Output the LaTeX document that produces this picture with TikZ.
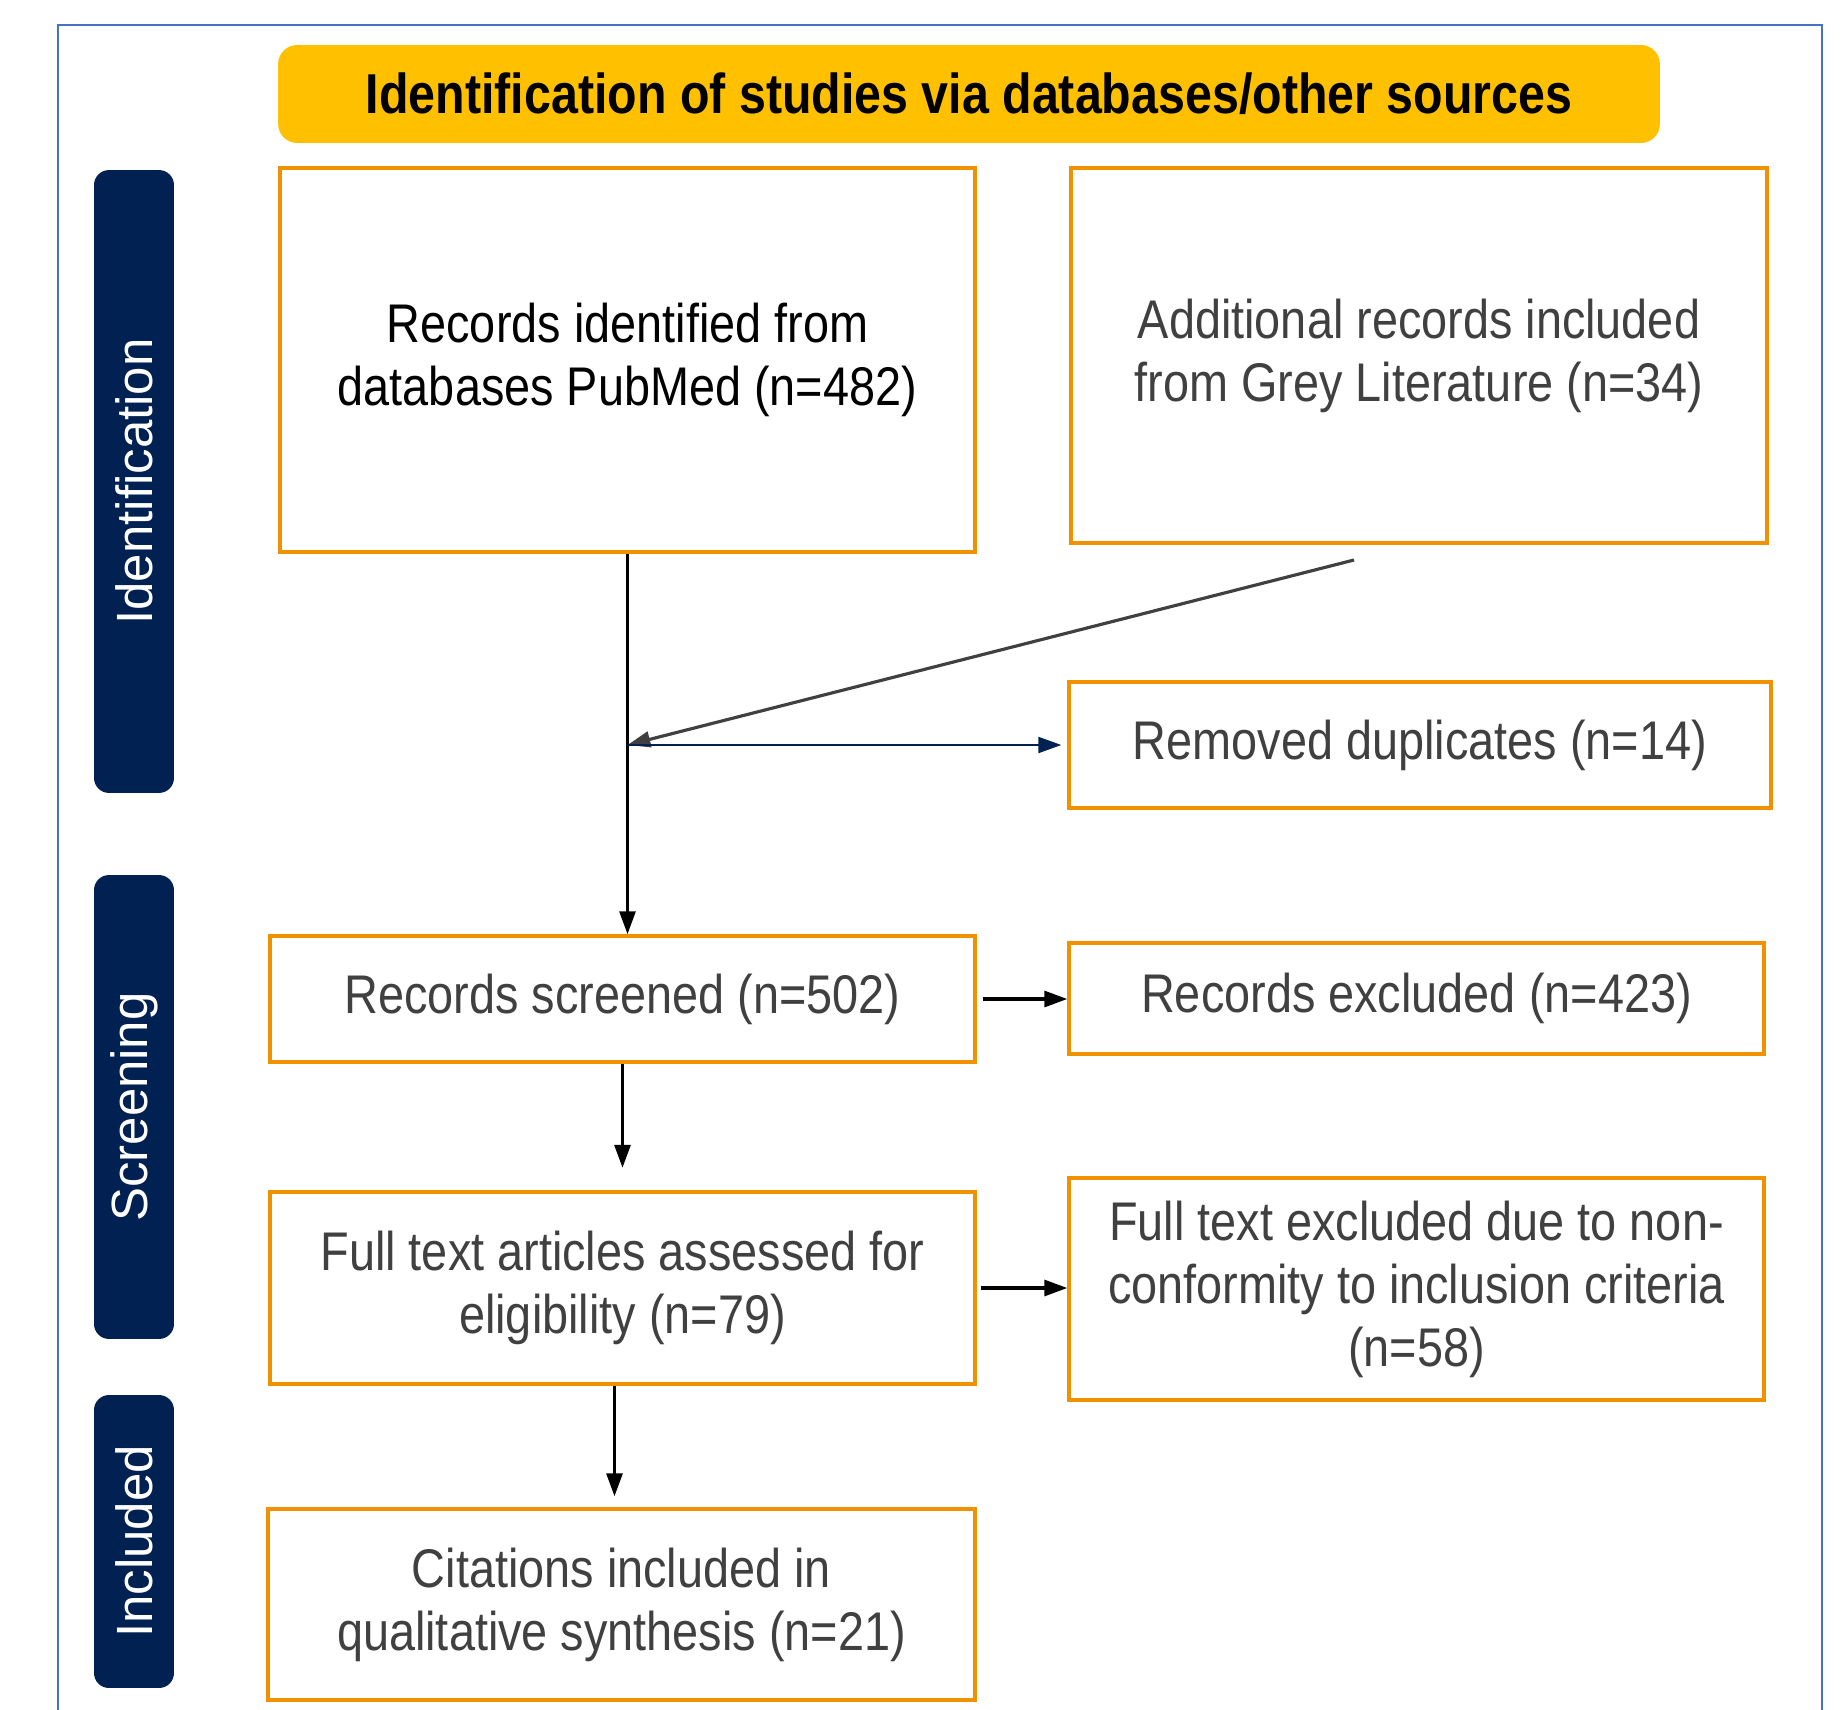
\documentclass[tikz,border=0pt]{standalone}
\usepackage{fontspec}
\setmainfont{Liberation Sans}
\newfontfamily\narrowsans[FakeStretch=0.86]{Liberation Sans}
\usepackage{xcolor}
\usetikzlibrary{arrows.meta, positioning, calc}

\definecolor{prismaorange}{HTML}{F29100}
\definecolor{prismagold}{HTML}{FFC000}
\definecolor{prismanavy}{HTML}{002152}
\definecolor{framblue}{HTML}{4472C4}
\definecolor{textgrey}{HTML}{404040}

\begin{document}
\begin{tikzpicture}[
    x=0.02cm, y=-0.02cm,
    record/.style={
        rectangle, draw=prismaorange, line width=2pt, fill=white,
        align=center, text=textgrey, inner sep=0pt,
        font=\narrowsans\fontsize{31}{35.8}\selectfont
    },
    banner/.style={
        rectangle, rounded corners=0.38cm, fill=prismagold,
        minimum width=27.64cm, minimum height=1.96cm,
        font=\narrowsans\bfseries\fontsize{32}{38}\selectfont
    },
    phase/.style={
        rectangle, rounded corners=0.3cm, fill=prismanavy, text=white,
        rotate=90, minimum height=1.6cm, inner sep=0pt,
        font=\fontsize{29}{34}\selectfont
    },
    flow/.style={-{Triangle[length=13pt, width=9pt]}, line width=1.8pt},
    merge/.style={-{Triangle[length=13pt, width=9pt]}, line width=1.8pt, draw=textgrey, fill=textgrey},
    remove/.style={-{Triangle[length=13pt, width=9pt]}, line width=1.3pt, draw=prismanavy, fill=prismanavy}
]
\useasboundingbox (0,0) rectangle (1842,1710);

% 1. Outer frame (open at the bottom)
\draw[framblue, line width=1.1pt] (58,1710) -- (58,25) -- (1822,25) -- (1822,1710);

% 2. Banner and phase bars
\node[banner] (banner) at (969,94) {Identification of studies via databases/other sources};
\node[phase, minimum width=12.46cm] (identbar) at (134,481.5) {Identification};
\node[phase, minimum width=9.28cm] (screenbar) at (134,1107) {Screening};
\node[phase, minimum width=5.86cm] (inclbar) at (134,1541.5) {Included};

% 3. Identification boxes
\node[record, text=black, minimum width=13.9cm, minimum height=7.68cm] (recdb) at (627.5,360)
    {Records identified from\\databases PubMed (n=482)};
\node[record, minimum width=13.92cm, minimum height=7.5cm] (grey) at (1419,355.5)
    {Additional records included\\from Grey Literature (n=34)};
\node[record, minimum width=14.04cm, minimum height=2.52cm] (dup) at (1420,745)
    {Removed duplicates (n=14)};

% 4. Screening boxes
\node[record, minimum width=14.1cm, minimum height=2.52cm] (screened) at (622.5,999)
    {Records screened (n=502)};
\node[record, minimum width=13.9cm, minimum height=2.22cm] (excl) at (1416.5,998.5)
    {Records excluded (n=423)};
\node[record, minimum width=14.1cm, minimum height=3.84cm] (fulltext) at (622.5,1288)
    {Full text articles assessed for\\eligibility (n=79)};
\node[record, minimum width=13.9cm, minimum height=4.44cm] (ftexcl) at (1416.5,1289)
    {Full text excluded due to non-\\conformity to inclusion criteria\\(n=58)};

% 5. Included box
\node[record, minimum width=14.14cm, minimum height=3.82cm] (incl) at (621.5,1604.5)
    {Citations included in\\qualitative synthesis (n=21)};

% 6. Connectors
\coordinate (junction) at (recdb.south |- dup.west);
\coordinate (greytail) at (1354,560);
\draw[flow] (recdb.south) -- (recdb.south |- screened.north);
\draw[merge] (greytail) -- (junction);
\draw[remove, shorten >=0.12cm] (junction) -- (dup.west);
\draw[flow, shorten <=0.12cm] (screened.east) -- (screened.east -| excl.west);
\draw[flow, shorten >=0.45cm] (screened.south) -- (screened.south |- fulltext.north);
\draw[flow, shorten <=0.08cm] (fulltext.east) -- (fulltext.east -| ftexcl.west);
\draw[flow, shorten >=0.22cm] ([xshift=-0.16cm]fulltext.south) -- ([xshift=-0.16cm]fulltext.south |- incl.north);

\end{tikzpicture}
\end{document}
